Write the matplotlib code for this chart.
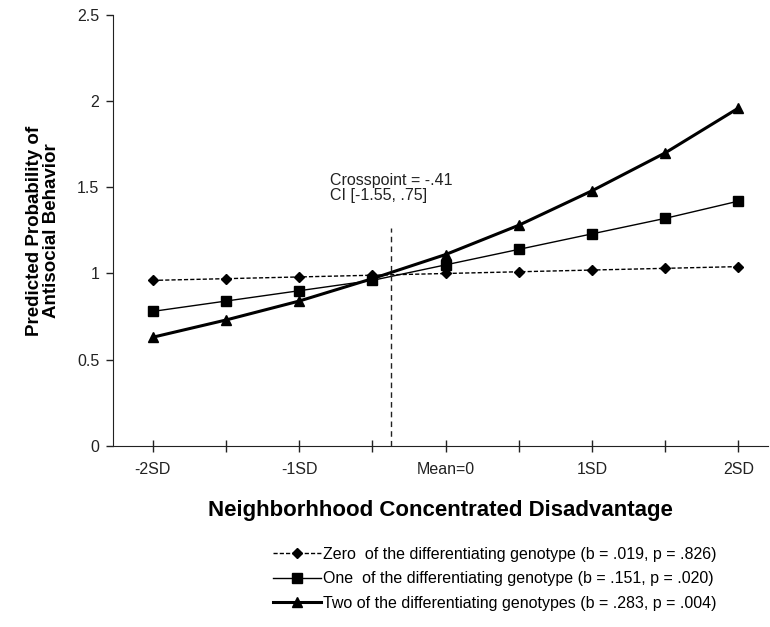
import matplotlib
matplotlib.use("Agg")
import matplotlib.pyplot as plt

plt.rcParams['font.family'] = ['Liberation Sans', 'DejaVu Sans']

x_pos = [-2, -1.5, -1, -0.5, 0, 0.5, 1, 1.5, 2]
tick_labels = ["-2SD", "", "-1SD", "", "Mean=0", "", "1SD", "", "2SD"]

zero_vals = [0.96, 0.97, 0.98, 0.99, 1.00, 1.01, 1.02, 1.03, 1.04]
one_vals = [0.78, 0.84, 0.90, 0.96, 1.05, 1.14, 1.23, 1.32, 1.42]
two_vals = [0.63, 0.73, 0.84, 0.97, 1.11, 1.28, 1.48, 1.70, 1.96]

labels = [
    "Zero  of the differentiating genotype (b = .019, p = .826)",
    "One  of the differentiating genotype (b = .151, p = .020)",
    "Two of the differentiating genotypes (b = .283, p = .004)",
]

crosspoint_line_x = -0.37
cross_top = 1.265

fig = plt.figure(figsize=(7.7, 6.27), dpi=100)
ax = fig.add_axes([0.147, 0.289, 0.85, 0.687])

l0, = ax.plot(x_pos, zero_vals, color='black', lw=1.0, ls=(0, (3, 1.5)),
              marker='D', ms=5, label=labels[0])
l1, = ax.plot(x_pos, one_vals, color='black', lw=1.0, ls='-',
              marker='s', ms=6.5, label=labels[1])
l2, = ax.plot(x_pos, two_vals, color='black', lw=2.2, ls='-',
              marker='^', ms=7, label=labels[2])

ax.plot([crosspoint_line_x, crosspoint_line_x], [0, cross_top], color='#222222',
        lw=1.0, ls=(0, (4, 3)))
ax.text(-0.79, 1.585, "Crosspoint = -.41\nCI [-1.55, .75]",
        fontsize=11.5, color='#222222', ha='left', va='top', linespacing=1.0)

ax.set_xlim(-2.27, 2.2)
ax.set_ylim(0, 2.5)
ax.set_yticks([0, 0.5, 1, 1.5, 2, 2.5])
ax.set_yticklabels(["0", "0.5", "1", "1.5", "2", "2.5"])
ax.set_xticks(x_pos)
ax.set_xticklabels(tick_labels)
ax.tick_params(axis='both', labelsize=11.5, colors='#222222', width=1)
ax.tick_params(axis='y', length=5, pad=5)
ax.tick_params(axis='x', direction='inout', length=8, pad=8)
ax.spines['top'].set_visible(False)
ax.spines['right'].set_visible(False)
ax.spines['left'].set_color('#222222')
ax.spines['bottom'].set_color('#222222')

ax.set_xlabel("Neighborhhood Concentrated Disadvantage", fontsize=16,
              fontweight='bold', labelpad=16)
ax.set_ylabel("Predicted Probability of\nAntisocial Behavior", fontsize=13.5,
              fontweight='bold', labelpad=12, linespacing=1.0)

fig.legend(handles=[l0, l1, l2], loc='upper left',
           bbox_to_anchor=(0.355, 0.128), frameon=False, fontsize=11.5,
           handlelength=3.0, handletextpad=0.1, labelspacing=0.6,
           borderpad=0, borderaxespad=0)

fig.savefig("out.png", dpi=100)
